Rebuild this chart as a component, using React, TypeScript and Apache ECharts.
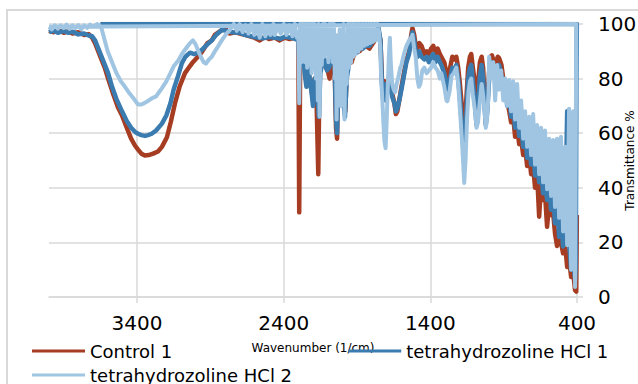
import React, { useEffect, useRef } from 'react';
import * as echarts from 'echarts';

const seriesNames = ['Control 1', 'tetrahydrozoline HCl 1', 'tetrahydrozoline HCl 2'];
const seriesColors = ['#a63c22', '#3a7bb0', '#9fc5e2'];

// [wavenumber (1/cm), transmittance %]
const control1: number[][] = [
  [4000, 97.5], [3970, 97], [3940, 97.8], [3900, 96.8], [3870, 97.3], [3840, 96.5], [3800, 97], [3760, 96], [3730, 96.3], [3706, 95],
  [3686, 93], [3650, 88], [3620, 84], [3597, 80], [3560, 74], [3530, 69.5], [3502, 66.5], [3470, 62], [3440, 58], [3414, 55.5],
  [3393, 54], [3370, 52.5], [3346, 51.8], [3320, 52], [3290, 52.5], [3257, 53.3], [3230, 55], [3196, 58.5], [3170, 64], [3141, 71],
  [3110, 77], [3073, 82], [3040, 84.5], [3019, 86], [2985, 88], [2958, 89.7], [2920, 93], [2890, 94], [2869, 96], [2830, 97.5], [2801, 98.5],
  [2770, 96.5], [2730, 97], [2700, 96.5], [2665, 96], [2630, 95.5], [2600, 95], [2563, 94], [2530, 95.3], [2500, 94.5], [2461, 95],
  [2430, 94], [2393, 95], [2360, 94.5], [2325, 95], [2300, 94], [2294, 31], [2287, 92], [2271, 90], [2257, 86], [2240, 84], [2223, 80],
  [2205, 74], [2189, 80], [2175, 70], [2164, 45], [2155, 84], [2142, 87], [2121, 85], [2100, 83], [2087, 80], [2070, 87], [2053, 85],
  [2043, 62], [2036, 58], [2028, 78], [2019, 72], [2005, 84], [1990, 70], [1980, 68], [1970, 82], [1950, 87], [1937, 86], [1920, 89],
  [1900, 90], [1883, 90], [1860, 91.5], [1840, 92], [1815, 91], [1790, 93], [1770, 95], [1755, 98], [1740, 94], [1730, 80], [1720, 74],
  [1713, 79], [1705, 73], [1699, 76], [1685, 80], [1670, 77], [1658, 74], [1645, 71], [1635, 67], [1625, 68], [1612, 72], [1597, 77],
  [1580, 82], [1563, 86.8], [1545, 90], [1530, 96], [1522, 98.5], [1510, 96], [1500, 92], [1488, 91], [1475, 93], [1460, 92], [1441, 89],
  [1425, 90], [1410, 89], [1395, 91], [1380, 92], [1365, 89], [1350, 91], [1335, 89], [1325, 88], [1305, 86], [1290, 82], [1284, 80],
  [1265, 84], [1250, 88], [1235, 87], [1223, 88], [1210, 84], [1200, 79], [1185, 70], [1172, 62], [1165, 62], [1155, 72], [1142, 84],
  [1130, 88], [1121, 89], [1110, 84], [1095, 78], [1085, 73], [1075, 78], [1062, 86], [1050, 88], [1040, 84], [1030, 72], [1022, 64],
  [1012, 70], [1000, 82], [990, 88], [980, 88.5], [965, 86], [951, 86], [940, 88], [931, 87.5], [915, 85], [903, 80],
  [890, 78], [876, 72], [862, 68], [849, 64], [835, 66], [822, 58.7], [808, 62], [794, 56], [781, 58], [767, 52], [754, 55], [740, 48],
  [726, 52], [713, 45], [699, 48], [686, 40], [672, 45], [658, 29.4], [645, 41], [631, 35.5], [618, 38], [604, 25.7], [590, 34], [577, 30],
  [563, 31], [550, 23.3], [536, 18.7], [522, 24], [509, 20], [495, 16], [481, 19], [467, 11], [454, 14], [440, 7.3], [426, 9], [413, 2.5],
  [405, 2], [401, 30],
];

const hcl1: number[][] = [
  [4000, 97], [3970, 97.6], [3940, 96.8], [3900, 97.5], [3870, 96.8], [3840, 97.2], [3800, 96.2], [3760, 96.5], [3730, 95.8], [3706, 95.5],
  [3686, 94], [3660, 90.5], [3630, 86.5], [3597, 82], [3570, 77], [3540, 72.5], [3502, 68], [3470, 64.5], [3440, 62], [3414, 60.5],
  [3393, 59.8], [3370, 59.3], [3346, 59], [3325, 59.3], [3300, 59.8], [3270, 61], [3230, 63.5], [3200, 66.5], [3172, 71], [3150, 76],
  [3120, 81], [3094, 85.7], [3070, 88], [3039, 89.5], [3010, 89], [2985, 89.5], [2958, 90.5], [2920, 92.5], [2890, 94], [2860, 96],
  [2822, 97.8], [2790, 97.5],
  [2750, 97], [2700, 96.8], [2665, 96], [2620, 95.5], [2580, 95], [2540, 94.8], [2500, 95.2], [2460, 95], [2420, 94.6], [2393, 95.3],
  [2350, 95], [2320, 94.5], [2300, 94], [2293, 86], [2287, 93], [2275, 85], [2265, 88], [2257, 82], [2245, 77], [2235, 87], [2223, 80],
  [2210, 75], [2200, 70], [2189, 80], [2175, 76], [2165, 70], [2160, 66], [2150, 82], [2135, 86], [2121, 87], [2105, 83], [2090, 84],
  [2070, 88], [2053, 86], [2043, 65], [2036, 60], [2028, 78], [2015, 72], [2005, 82], [1990, 70], [1982, 66], [1970, 80], [1950, 87],
  [1937, 88], [1920, 90], [1900, 89.5], [1883, 91], [1860, 91], [1840, 92], [1815, 92], [1790, 94], [1770, 96], [1755, 99], [1740, 94],
  [1730, 78], [1720, 73], [1713, 78], [1705, 72], [1699, 74], [1685, 79], [1670, 76], [1658, 73], [1645, 71], [1635, 68], [1625, 69],
  [1612, 72], [1597, 76], [1580, 81], [1563, 86], [1545, 89], [1530, 95], [1522, 97], [1510, 94], [1500, 90], [1488, 88], [1475, 90],
  [1460, 88], [1441, 87], [1425, 88], [1410, 86], [1395, 88], [1380, 89], [1365, 86], [1350, 88], [1335, 86], [1325, 85], [1305, 82],
  [1290, 78], [1284, 76], [1265, 80], [1250, 84], [1235, 83], [1223, 85], [1210, 80], [1200, 74], [1185, 63], [1172, 52], [1165, 55],
  [1155, 66], [1142, 80], [1130, 84], [1121, 85], [1110, 79], [1095, 70], [1085, 63], [1075, 70], [1062, 81], [1050, 85], [1040, 80],
  [1030, 70], [1022, 63], [1012, 68], [1000, 79], [990, 85], [980, 86], [965, 83], [951, 81], [940, 84], [931, 85], [915, 81], [903, 79],
  [890, 78], [876, 70], [862, 73], [849, 66], [835, 70], [822, 62], [808, 67], [794, 59], [781, 63], [767, 55], [754, 60], [740, 51],
  [726, 56], [713, 48.5], [699, 54], [686, 44.5], [672, 50], [658, 42], [645, 47], [631, 38], [618, 44], [604, 35.5], [590, 42], [577, 32],
  [563, 38], [550, 27], [536, 35], [522, 22], [509, 30], [495, 18.5], [481, 26], [467, 68], [454, 20], [440, 10], [426, 14], [413, 6],
  [408, 12], [404, 80], [401, 100], [3650, 100],
];

const hcl2: number[][] = [
  [4000, 99], [3980, 98], [3960, 99.5], [3940, 98.3], [3920, 99.5], [3900, 98.5], [3880, 99.8], [3860, 98.2], [3840, 99.5], [3820, 98.5],
  [3800, 99.6], [3780, 98], [3760, 99.5], [3740, 98.6], [3720, 99.8], [3700, 99], [3670, 100], [3645, 99], [3630, 96], [3600, 90],
  [3570, 86], [3540, 82], [3510, 79], [3482, 77], [3450, 74.5], [3420, 72.5], [3393, 70.5], [3370, 70.5], [3350, 71], [3320, 72],
  [3298, 72.8], [3270, 73.5], [3250, 75], [3230, 76.5], [3200, 79], [3172, 82], [3150, 84.5], [3120, 86.5], [3094, 89], [3060, 91.5],
  [3039, 93], [3019, 94], [3000, 92.5], [2985, 90.5], [2965, 88], [2945, 86], [2930, 85.5], [2910, 87], [2890, 88], [2869, 90],
  [2845, 92], [2822, 94], [2790, 96.5], [2767, 97.8],
  [2740, 100], [2720, 97.5], [2700, 100], [2680, 97], [2660, 99.5], [2640, 96.5], [2620, 100], [2600, 96], [2580, 99], [2563, 95],
  [2545, 100], [2525, 95.5], [2505, 99], [2490, 96], [2470, 100], [2461, 96], [2440, 99], [2420, 96.5], [2400, 100], [2380, 96],
  [2360, 99.5], [2340, 95.5], [2325, 100], [2310, 95], [2300, 97], [2294, 71], [2288, 100],
  [2280, 86], [2275, 100], [2268, 87], [2262, 100], [2255, 86], [2248, 100], [2240, 84], [2232, 100], [2225, 85], [2218, 100],
  [2210, 82], [2203, 100], [2196, 84], [2189, 100], [2180, 80], [2172, 99], [2167, 72], [2162, 100], [2155, 66], [2148, 98],
  [2140, 85], [2132, 100], [2125, 88], [2118, 100], [2110, 89], [2103, 98], [2095, 86], [2088, 100], [2080, 88], [2072, 100],
  [2065, 86], [2058, 100], [2050, 80], [2044, 96], [2039, 65], [2032, 95], [2025, 75], [2018, 98], [2012, 70], [2005, 96],
  [1998, 77], [1992, 100], [1985, 65], [1978, 96], [1970, 78], [1962, 100], [1955, 84], [1948, 100], [1940, 86], [1932, 100],
  [1925, 88], [1918, 100], [1910, 89], [1900, 100], [1890, 90], [1880, 100], [1870, 91], [1860, 100], [1850, 92], [1840, 100],
  [1830, 92.5], [1820, 100], [1810, 93], [1800, 100], [1790, 93.5], [1780, 100], [1770, 94], [1760, 100], [1750, 97],
  [1742, 92], [1735, 80], [1728, 73], [1720, 64], [1713, 57], [1705, 54.5], [1698, 64], [1690, 77], [1683, 88], [1676, 95],
  [1670, 86], [1660, 78], [1650, 76], [1640, 75], [1630, 78], [1620, 80], [1605, 84], [1597, 85], [1580, 89], [1563, 92],
  [1545, 94], [1530, 95], [1522, 96], [1510, 91], [1500, 88], [1488, 80], [1478, 77], [1468, 78], [1455, 83], [1441, 84],
  [1425, 82], [1410, 83], [1395, 84], [1380, 86], [1365, 84], [1350, 83], [1335, 80], [1325, 82], [1305, 77], [1290, 72],
  [1284, 71.7], [1270, 75], [1255, 81], [1240, 82], [1223, 84], [1210, 78], [1200, 70], [1185, 58], [1175, 48], [1169, 41.8],
  [1160, 50], [1150, 65], [1140, 75], [1130, 79], [1121, 80], [1110, 74], [1095, 68], [1085, 62], [1075, 64], [1062, 72],
  [1050, 78], [1040, 74], [1030, 68], [1022, 62], [1012, 66], [1003, 75],
  [999, 88], [985, 80], [971, 86], [958, 72], [944, 85], [931, 76], [917, 83], [903, 72], [890, 80], [876, 70], [862, 79.5],
  [849, 68], [835, 79], [822, 65], [808, 78], [794, 62], [781, 72], [767, 58], [754, 68], [740, 55], [726, 66], [713, 52],
  [699, 67], [686, 48.5], [672, 63], [658, 45], [645, 62], [631, 42], [618, 61], [604, 39.5], [590, 58], [577, 37], [563, 57.5],
  [550, 33], [536, 58], [522, 29], [509, 58.7], [495, 24], [481, 55], [467, 19], [454, 69], [440, 10], [426, 68], [413, 3.7],
  [408, 60], [405, 100], [4000, 99],
];

const seriesData = [control1, hcl1, hcl2];
const seriesWidths = [4.5, 4.5, 4];

export default function App() {
  const ref = useRef<HTMLDivElement>(null);
  useEffect(() => {
    if (!ref.current) return;
    const chart = echarts.init(ref.current, null, { renderer: 'svg' });
    const font = 'DejaVu Sans';
    const grey = '#d9d9d9';
    chart.setOption({
      animation: false,
      graphic: [
        {
          type: 'rect',
          silent: true,
          z: -10,
          shape: { x: 7, y: 10, width: 700, height: 500 },
          style: { fill: 'none', stroke: grey, lineWidth: 2 },
        },
      ],
      grid: { left: 49, right: 61, top: 24, bottom: 87, containLabel: false, outerBoundsMode: 'none' },
      legend: [
        {
          data: [seriesNames[0], seriesNames[1]],
          left: 32,
          top: 342,
          padding: 0,
          icon: 'rect',
          itemWidth: 53,
          itemHeight: 3,
          itemGap: 176,
          textStyle: { fontFamily: font, fontSize: 18, color: '#000' },
        },
        {
          data: [seriesNames[2]],
          left: 32,
          top: 366,
          padding: 0,
          icon: 'rect',
          itemWidth: 53,
          itemHeight: 3,
          textStyle: { fontFamily: font, fontSize: 18, color: '#000' },
        },
      ],
      xAxis: {
        type: 'value',
        inverse: true,
        min: 400,
        max: 4000,
        interval: 1000,
        name: 'Wavenumber (1/cm)',
        nameLocation: 'middle',
        nameGap: 45,
        nameMoveOverlap: false,
        nameTextStyle: { fontFamily: font, fontSize: 12, color: '#000' },
        axisLine: { show: true, lineStyle: { color: grey, width: 1.5 } },
        axisTick: { show: true, length: 6, lineStyle: { color: grey, width: 1.5 } },
        axisLabel: {
          fontFamily: font,
          fontSize: 20,
          color: '#000',
          margin: 16,
          showMaxLabel: false,
          formatter: (v: number) => String(v),
        },
        splitLine: { show: true, showMaxLine: false, lineStyle: { color: grey, width: 1.5 } },
      },
      yAxis: {
        type: 'value',
        position: 'right',
        min: 0,
        max: 100,
        interval: 20,
        name: 'Transmittance %',
        nameLocation: 'middle',
        nameRotate: 90,
        nameGap: 47,
        nameMoveOverlap: false,
        nameTextStyle: { fontFamily: font, fontSize: 12, color: '#000' },
        axisLine: { show: false },
        axisTick: { show: true, length: 6, lineStyle: { color: grey, width: 1.5 } },
        axisLabel: { fontFamily: font, fontSize: 20, color: '#000', margin: 21, formatter: (v: number) => String(v) },
        splitLine: { show: true, lineStyle: { color: grey, width: 1.5 } },
      },
      series: seriesNames.map((name, i) => ({
        name,
        type: 'line',
        data: seriesData[i],
        symbol: 'none',
        showSymbol: false,
        clip: true,
        z: 2 + i,
        lineStyle: { color: seriesColors[i], width: seriesWidths[i], join: 'round' },
        itemStyle: { color: seriesColors[i] },
        emphasis: { disabled: true },
      })),
    });
    return () => chart.dispose();
  }, []);
  return <div ref={ref} style={{ position: 'absolute', left: 0, top: 0, width: 638, height: 384 }} />;
}
